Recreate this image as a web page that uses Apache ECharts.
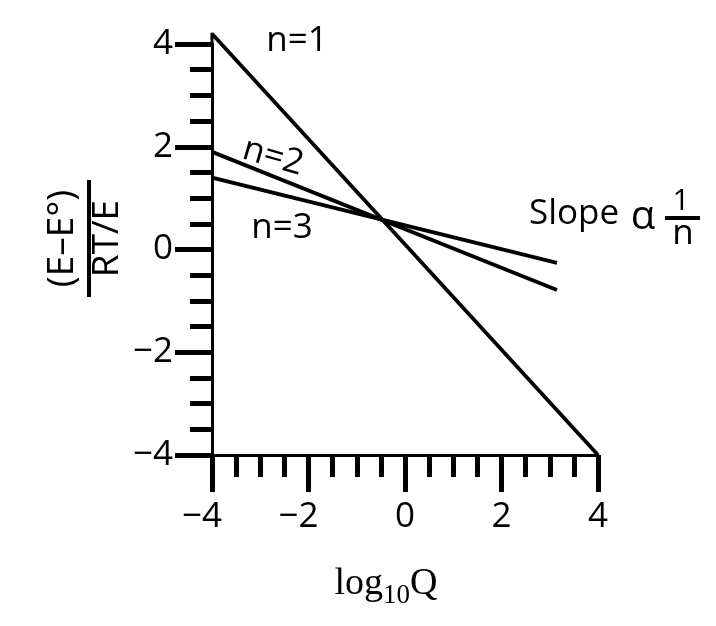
<!DOCTYPE html>
<html>
<head>
<meta charset="utf-8">
<script src="https://cdn.jsdelivr.net/npm/echarts@6/dist/echarts.min.js"></script>
<style>
html,body{margin:0;padding:0;background:#fff;}
#main{width:716px;height:626px;}
</style>
</head>
<body>
<div id="main"></div>
<script>
// ---- data ----
const xRange = [-4, 4];
const yRange = [-4, 4];
const majorStep = 2;
const lineN1 = [[-4, 4.2], [4, -4]];
const lineN2 = [[-4, 1.9], [3.15, -0.79]];
const lineN3 = [[-4, 1.4], [3.15, -0.26]];
const yAxisTop = [[-4, 4], [-4, 4.22]];
const lineLabels = ['n=1', 'n=2', 'n=3'];
const slopeWord = 'Slope';
const slopeSym = '\u03b1';
const slopeNum = '1';
const slopeDen = 'n';
const yNameNum = '(E\u2013E\u00b0)';
const yNameDen = 'RT/E';
const xNameParts = ['log', '10', 'Q'];

const FONT = 'Open Sans';
const chart = echarts.init(document.getElementById('main'));

function fmtX(v) {
  if (v < 0) return '\u2212' + Math.abs(v) + '{h|\u2212}';
  return String(v);
}
function fmtY(v) {
  if (v < 0) return '\u2212' + Math.abs(v);
  return String(v);
}

const axisCommon = {
  type: 'value',
  interval: majorStep,
  axisLine: { show: true, onZero: false, lineStyle: { color: '#000', width: 3 } },
  axisTick: { show: true, inside: false, length: 37, lineStyle: { color: '#000', width: 5 } },
  minorTick: { show: true, splitNumber: 4, length: 22, lineStyle: { color: '#000', width: 5 } },
  splitLine: { show: false },
  minorSplitLine: { show: false }
};

function mkSeries(name, data, w) {
  return {
    name: name, type: 'line', data: data, symbol: 'none', clip: false,
    lineStyle: { color: '#000', width: w || 3.8 }, animation: false, silent: true
  };
}

function txt(x, y, s, size, extra) {
  return Object.assign({
    type: 'text', x: x, y: y,
    style: { text: s, font: size + 'px "' + FONT + '"', fill: '#000', align: 'center', verticalAlign: 'middle' }
  }, extra || {});
}

const option = {
  animation: false,
  backgroundColor: '#fff',
  grid: { left: 212, right: 118, top: 44, bottom: 171, containLabel: false },
  xAxis: Object.assign({}, axisCommon, {
    min: xRange[0], max: xRange[1],
    axisLabel: {
      margin: 45, color: '#000', fontSize: 35, fontFamily: FONT,
      formatter: fmtX,
      rich: { h: { color: 'rgba(0,0,0,0)', fontSize: 35, fontFamily: FONT } }
    }
  }),
  yAxis: Object.assign({}, axisCommon, {
    min: yRange[0], max: yRange[1],
    axisLabel: { margin: 39, color: '#000', fontSize: 35, fontFamily: FONT, formatter: fmtY }
  }),
  series: [
    mkSeries(lineLabels[0], lineN1),
    mkSeries(lineLabels[1], lineN2),
    mkSeries(lineLabels[2], lineN3),
    mkSeries('axisTop', yAxisTop, 3)
  ],
  graphic: [
    txt(297, 41, lineLabels[0], 35),
    txt(273, 157, lineLabels[1], 35, { rotation: -0.28 }),
    txt(282, 228, lineLabels[2], 35),
    { type: 'text', x: 529, y: 214, style: { text: slopeWord, font: '35px "' + FONT + '"', fill: '#000', align: 'left', verticalAlign: 'middle' } },
    txt(643, 218, slopeSym, 40),
    txt(681, 201, slopeNum, 30),
    txt(683, 234, slopeDen, 35),
    { type: 'line', shape: { x1: 665, y1: 218, x2: 700, y2: 218 }, style: { stroke: '#000', lineWidth: 4 } },
    {
      type: 'group', x: 89, y: 238.5, rotation: Math.PI / 2,
      children: [
        txt(0, -27, yNameNum, 37),
        txt(0, 18, yNameDen, 37),
        { type: 'line', shape: { x1: -58.5, y1: 0, x2: 58.5, y2: 0 }, style: { stroke: '#000', lineWidth: 4 } }
      ]
    },
    {
      type: 'text', x: 386, y: 581,
      style: {
        text: '{a|' + xNameParts[0] + '}{b|' + xNameParts[1] + '}{a|' + xNameParts[2] + '}',
        align: 'center', verticalAlign: 'middle', fill: '#000',
        rich: {
          a: { fontSize: 38, fontFamily: 'Liberation Serif', fill: '#000', verticalAlign: 'bottom', lineHeight: 44 },
          b: { fontSize: 27, fontFamily: 'Liberation Serif', fill: '#000', verticalAlign: 'bottom', lineHeight: 44, padding: [0, 0, -6, 0] }
        }
      }
    }
  ]
};
chart.setOption(option);
</script>
</body>
</html>
